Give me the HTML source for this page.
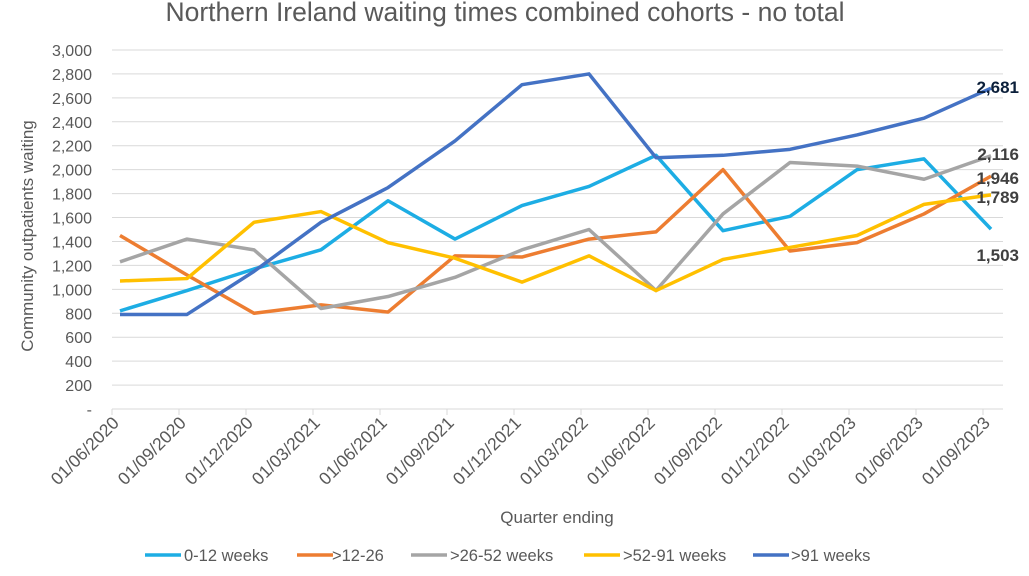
<!DOCTYPE html>
<html><head><meta charset="utf-8"><style>
body{margin:0;background:#fff;font-family:"Liberation Sans",sans-serif}
svg text{font-family:"Liberation Sans",sans-serif}
</style></head><body>
<svg id="c" width="1029" height="571">
<text x="505" y="21" font-size="26.5" fill="#595959" text-anchor="middle">Northern Ireland waiting times combined cohorts - no total</text>
<text transform="translate(33,236) rotate(-90)" font-size="17" fill="#595959" text-anchor="middle">Community outpatients waiting</text>
<text x="557" y="523" font-size="17" fill="#595959" text-anchor="middle">Quarter ending</text>
<g id="grid"></g><g id="axes"></g><g id="series"></g><g id="labels"></g><g id="legend"></g>
</svg>
<script>
const categories=["01/06/2020","01/09/2020","01/12/2020","01/03/2021","01/06/2021","01/09/2021","01/12/2021","01/03/2022","01/06/2022","01/09/2022","01/12/2022","01/03/2023","01/06/2023","01/09/2023"];
const seriesNames=["0-12 weeks",">12-26",">26-52 weeks",">52-91 weeks",">91 weeks"];
const colors=["#1DADE4","#ED7D31","#A5A5A5","#FFC000","#4472C4"];
const s0=[820,990,1170,1330,1740,1420,1700,1860,2120,1490,1610,2000,2090,1503];
const s1=[1450,1120,800,870,810,1280,1270,1420,1480,2000,1320,1390,1630,1946];
const s2=[1230,1420,1330,840,940,1100,1330,1500,990,1630,2060,2030,1920,2116];
const s3=[1070,1090,1560,1650,1390,1260,1060,1280,990,1250,1350,1450,1710,1789];
const s4=[790,790,1150,1560,1850,2240,2710,2800,2100,2120,2170,2290,2430,2681];
const yTicks=[0,200,400,600,800,1000,1200,1400,1600,1800,2000,2200,2400,2600,2800,3000];
const allSeries=[s0,s1,s2,s3,s4];
const NS="http://www.w3.org/2000/svg";
const y=v=>409-v*(359/3000);
const x=i=>120+i*67;
const tx=i=>112+i*67;
function mk(t,a,p){const e=document.createElementNS(NS,t);for(const k in a)e.setAttribute(k,a[k]);p.appendChild(e);return e;}
const grid=document.getElementById('grid'),axes=document.getElementById('axes'),ser=document.getElementById('series'),lab=document.getElementById('labels'),leg=document.getElementById('legend');
yTicks.forEach(v=>{
 const l=mk('line',{x1:112,x2:1003,y1:y(v),y2:y(v),stroke:'#d9d9d9','stroke-width':1},grid);
 
 
 const t=mk('text',{x:92,y:y(v)+6,'font-size':16,fill:'#595959','text-anchor':'end'},axes);
 t.textContent=v===0?'-':v.toLocaleString('en-US');
 
 
});
categories.forEach((c,i)=>{
 const tk=mk('line',{x1:tx(i),x2:tx(i),y1:409,y2:415,stroke:'#d9d9d9'},axes);
 
 
 const t=mk('text',{x:tx(i)+8,y:424,'font-size':17.5,fill:'#595959','text-anchor':'end',transform:`rotate(-45 ${tx(i)+8} 424)`},axes);
 t.textContent=c;
 
 
});
allSeries.forEach((s,k)=>{
 const p=mk('polyline',{points:s.map((v,i)=>x(i)+','+y(v)).join(' '),fill:'none',stroke:colors[k],'stroke-width':3.5,'stroke-linejoin':'round'},ser);
 
 
});
const labOff=[32,8,4,8,5];
const labCol=["#404040","#404040","#404040","#404040","#0b1f3a"];
allSeries.forEach((s,k)=>{
 const v=s[s.length-1];
 const t=mk('text',{x:1019,y:y(v)+labOff[k],'font-size':17,'font-weight':'bold',fill:labCol[k],'text-anchor':'end'},lab);
 t.textContent=v.toLocaleString('en-US');
 
 
});
const lx=[145,297,411,584,753];
const tX=[184,332,450,623,791];
seriesNames.forEach((n,k)=>{
 const g=mk('g',{},leg);
 
 
 mk('line',{x1:lx[k],x2:lx[k]+36,y1:555,y2:555,stroke:colors[k],'stroke-width':3.5},g);
 const t=mk('text',{x:tX[k],y:561,'font-size':16.5,fill:'#595959'},g);
 t.textContent=n;
});
</script>
</body></html>
